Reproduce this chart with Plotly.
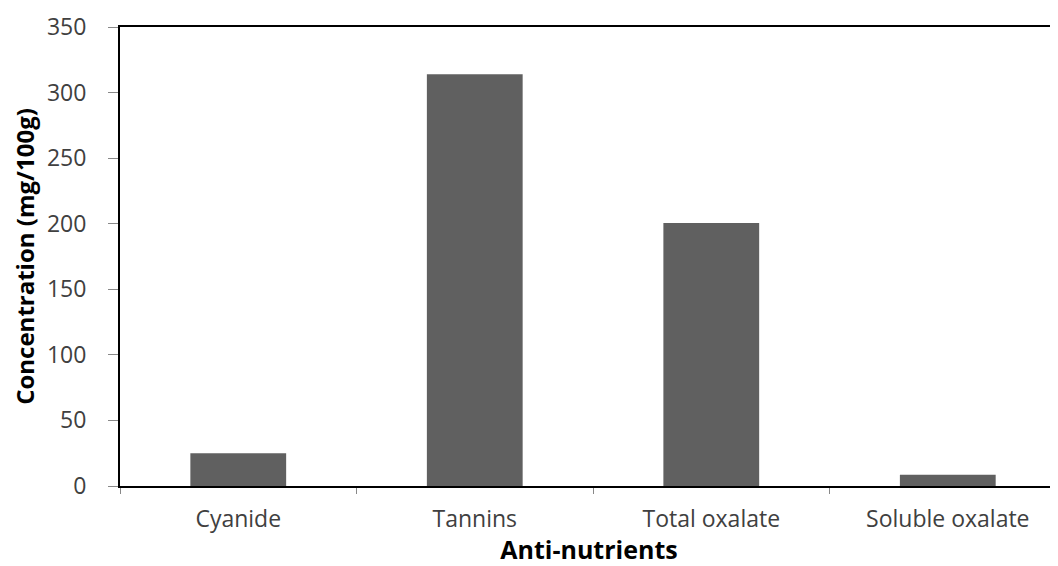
import plotly.graph_objects as go

categories = ["Cyanide", "Tannins", "Total oxalate", "Soluble oxalate"]
values = [25, 314, 200.5, 8.5]
y_ticks = [0, 50, 100, 150, 200, 250, 300, 350]

fig = go.Figure()
fig.add_trace(go.Bar(
    x=categories, y=values, width=0.405,
    marker=dict(color="#606060", line=dict(width=0)),
))

font_family = "Open Sans"
fig.update_layout(
    width=1050, height=558,
    margin=dict(l=112, r=0, t=19, b=80),
    plot_bgcolor="white", paper_bgcolor="white",
    showlegend=False,
    font=dict(family=font_family, color="#404040"),
)
fig.update_xaxes(
    range=[-0.5, 3.466],
    showline=True, linecolor="black", linewidth=2, mirror=True,
    ticks="outside", tickson="boundaries", ticklen=6, tickcolor="#888888",
    tickfont=dict(size=23, color="#404040"),
    ticklabelstandoff=11,
    title=dict(text="<b>Anti-nutrients</b>", font=dict(size=25, color="black"), standoff=0),
    showgrid=False,
)
fig.update_yaxes(
    range=[0, 350], tickvals=y_ticks,
    showline=True, linecolor="black", linewidth=2,
    ticks="outside", ticklen=10, tickcolor="#888888",
    tickfont=dict(size=23, color="#404040"),
    ticklabelstandoff=17,
    title=dict(text="<b>Concentration (mg/100g)</b>", font=dict(size=24, color="black"), standoff=6),
    showgrid=False, zeroline=False,
)
fig.write_html("out.html")
